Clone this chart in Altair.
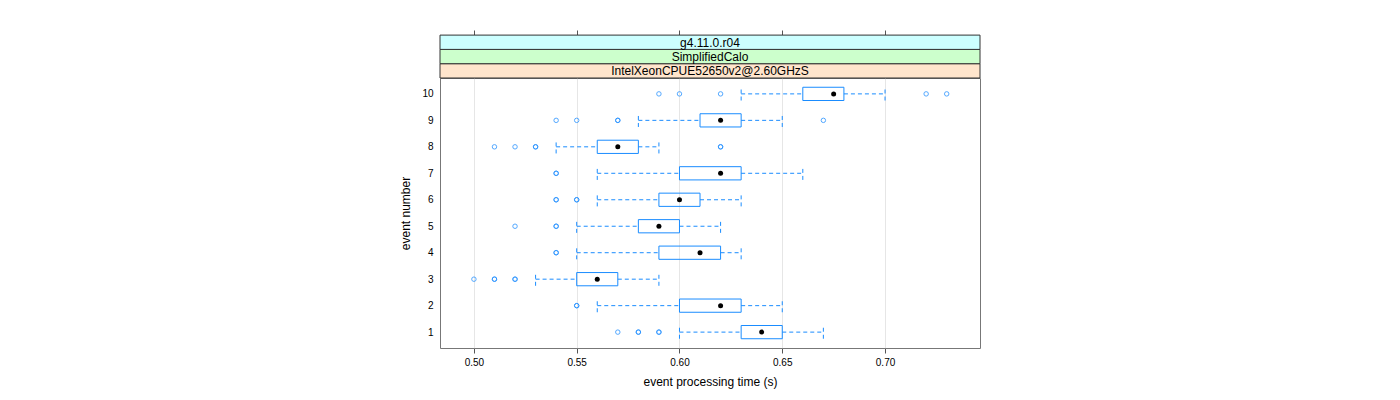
import altair as alt
import pandas as pd

# ---- data ----
events = [1, 2, 3, 4, 5, 6, 7, 8, 9, 10]
whisker_lo = [0.60, 0.56, 0.53, 0.55, 0.55, 0.56, 0.56, 0.54, 0.58, 0.63]
q1 = [0.63, 0.60, 0.55, 0.59, 0.58, 0.59, 0.60, 0.56, 0.61, 0.66]
median = [0.64, 0.62, 0.56, 0.61, 0.59, 0.60, 0.62, 0.57, 0.62, 0.675]
q3 = [0.65, 0.63, 0.57, 0.62, 0.60, 0.61, 0.63, 0.58, 0.63, 0.68]
whisker_hi = [0.67, 0.65, 0.59, 0.63, 0.62, 0.63, 0.66, 0.59, 0.65, 0.70]

outlier_event = [1, 1, 1, 1, 1,
                 2, 2,
                 3, 3, 3, 3, 3,
                 4, 4,
                 5, 5, 5,
                 6, 6, 6, 6,
                 7, 7,
                 8, 8, 8, 8, 8, 8,
                 9, 9, 9, 9, 9,
                 10, 10, 10, 10, 10]
outlier_value = [0.57, 0.58, 0.58, 0.59, 0.59,
                 0.55, 0.55,
                 0.50, 0.51, 0.51, 0.52, 0.52,
                 0.54, 0.54,
                 0.52, 0.54, 0.54,
                 0.54, 0.54, 0.55, 0.55,
                 0.54, 0.54,
                 0.51, 0.52, 0.53, 0.53, 0.62, 0.62,
                 0.54, 0.55, 0.57, 0.57, 0.67,
                 0.59, 0.60, 0.62, 0.72, 0.73]

strip_labels = ["IntelXeonCPUE52650v2@2.60GHzS", "SimplifiedCalo", "g4.11.0.r04"]
strip_colors = ["#ffe5cc", "#ccffcc", "#ccffff"]

x_ticks = [0.50, 0.55, 0.60, 0.65, 0.70]

# ---- tables ----
box_df = pd.DataFrame({
    "event": events, "wlo": whisker_lo, "q1": q1, "med": median,
    "q3": q3, "whi": whisker_hi,
})
out_df = pd.DataFrame({"event": outlier_event, "value": outlier_value})

BLUE = "#1a8cff"
W, H = 540, 270
STRIP_H = 14.3
FONT = "Liberation Sans"

xscale = alt.Scale(domain=[0.4835, 0.7462], nice=False, zero=False)
yscale = alt.Scale(domain=[0.4, 10.6], nice=False, zero=False)
yaxis = alt.Axis(values=events, format="d", ticks=False, domain=False, grid=False,
                 labelPadding=7, title="event number", titlePadding=9,
                 labelFontSize=10, titleFontSize=12)

base = alt.Chart(box_df).transform_calculate(
    ylo="datum.event - 0.25", yhi="datum.event + 0.25")

bottom_axis = alt.Axis(values=x_ticks, format=".2f", orient="bottom", domain=False,
                       grid=True, gridColor="#e6e6e6", tickSize=5, tickColor="#555",
                       labelFontSize=10, labelPadding=4, titleFontSize=12,
                       title="event processing time (s)", titlePadding=9)
top_axis = alt.Axis(values=x_ticks, orient="top", labels=False, domain=False,
                    grid=False, tickSize=5, tickColor="#555", offset=43, title=None)

y_enc = alt.Y("event:Q", scale=yscale, axis=yaxis)
DASH = [4, 3]

whisk_lo = base.mark_rule(color=BLUE, strokeDash=DASH, strokeWidth=1).encode(
    x=alt.X("wlo:Q", scale=xscale, axis=bottom_axis), x2="q1:Q", y=y_enc)
whisk_hi = base.mark_rule(color=BLUE, strokeDash=DASH, strokeWidth=1).encode(
    x=alt.X("q3:Q", scale=xscale, axis=None), x2="whi:Q", y=y_enc)
cap_lo = base.mark_rule(color=BLUE, strokeDash=DASH, strokeWidth=1).encode(
    x=alt.X("wlo:Q", scale=xscale, axis=None),
    y=alt.Y("ylo:Q", scale=yscale, axis=yaxis), y2="yhi:Q")
cap_hi = base.mark_rule(color=BLUE, strokeDash=DASH, strokeWidth=1).encode(
    x=alt.X("whi:Q", scale=xscale, axis=None),
    y=alt.Y("ylo:Q", scale=yscale, axis=yaxis), y2="yhi:Q")
boxes = base.mark_rect(fill=None, fillOpacity=0, stroke=BLUE, strokeWidth=1).encode(
    x=alt.X("q1:Q", scale=xscale, axis=None), x2="q3:Q",
    y=alt.Y("ylo:Q", scale=yscale, axis=yaxis), y2="yhi:Q")
meds = base.mark_point(filled=True, color="black", size=25, opacity=1).encode(
    x=alt.X("med:Q", scale=xscale, axis=None), y=y_enc)
topax = base.mark_point(opacity=0).encode(
    x=alt.X("med:Q", scale=xscale, axis=top_axis), y=y_enc)

outs = alt.Chart(out_df).mark_point(shape="circle", filled=False, color=BLUE,
                                    size=20, strokeWidth=1, opacity=0.75).encode(
    x=alt.X("value:Q", scale=xscale, axis=None), y=y_enc)

strip_layers = []
for i, (lab, col) in enumerate(zip(strip_labels, strip_colors)):
    sdf = pd.DataFrame({"label": [lab]})
    top = -STRIP_H * (i + 1)
    bot = -STRIP_H * i
    strip_layers.append(
        alt.Chart(sdf).mark_rect(fill=col, stroke="#333", strokeWidth=1).encode(
            x=alt.value(0), x2=alt.value(W), y=alt.value(top), y2=alt.value(bot)))
    strip_layers.append(
        alt.Chart(sdf).mark_text(font=FONT, fontSize=12, color="black",
                                 baseline="middle", align="center").encode(
            text="label:N", x=alt.value(W / 2), y=alt.value((top + bot) / 2 + 0.5)))

chart = alt.layer(
    whisk_lo, whisk_hi, cap_lo, cap_hi, boxes, outs, meds, topax, *strip_layers
).resolve_axis(x="independent").properties(
    width=W, height=H,
    autosize=alt.AutoSizeParams(type="none"),
    padding={"left": 432, "top": 70, "right": 400, "bottom": 44},
).configure_view(
    stroke="#777", strokeWidth=1
).configure_axis(
    labelFont=FONT, titleFont=FONT, labelColor="black", titleColor="black",
    titleFontWeight="normal"
)

chart.save("out.html", embed_options={"renderer": "svg", "actions": False})
